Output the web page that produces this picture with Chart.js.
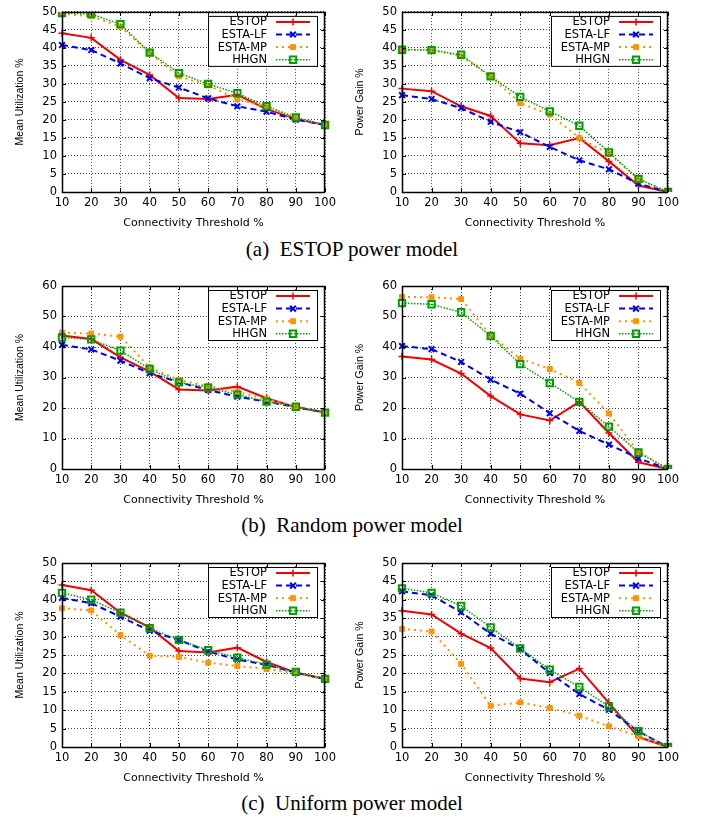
<!DOCTYPE html>
<html>
<head>
<meta charset="utf-8">
<script src="https://cdn.jsdelivr.net/npm/chart.js@4.4.1/dist/chart.umd.min.js"></script>
<style>
  body { margin: 0; background: #fff; }
  #page { position: relative; width: 704px; height: 818px; overflow: hidden; }
  .pane { position: absolute; }
  .cap { position: absolute; left: 0; width: 704px; text-align: center; font-family: "Liberation Serif", "Times New Roman", serif; font-size: 21px; line-height: 24px; color: #000; white-space: pre; }
</style>
</head>
<body>
<div id="page">
  <div class="pane" style="left:0;top:0;width:340px;height:230px"><canvas id="aU"></canvas></div>
  <div class="pane" style="left:340px;top:0;width:364px;height:230px"><canvas id="aG"></canvas></div>
  <div class="cap" style="top:237px">(a)  ESTOP power model</div>
  <div class="pane" style="left:0;top:270px;width:340px;height:237px"><canvas id="bU"></canvas></div>
  <div class="pane" style="left:340px;top:270px;width:364px;height:237px"><canvas id="bG"></canvas></div>
  <div class="cap" style="top:513px">(b)  Random power model</div>
  <div class="pane" style="left:0;top:548px;width:340px;height:237px"><canvas id="cU"></canvas></div>
  <div class="pane" style="left:340px;top:548px;width:364px;height:237px"><canvas id="cG"></canvas></div>
  <div class="cap" style="top:791px">(c)  Uniform power model</div>
</div>
<script>
// connectivity thresholds (x axis)
const thresholds = ['10', '20', '30', '40', '50', '60', '70', '80', '90', '100'];
const algos = ['ESTOP', 'ESTA-LF', 'ESTA-MP', 'HHGN'];

// (a) ESTOP power model
const aUtilEstop = [44.1, 42.8, 36.7, 32.5, 26.1, 25.8, 27.0, 23.0, 20.3, 18.6];
const aUtilLf    = [40.8, 39.4, 35.7, 31.6, 29.0, 26.0, 23.8, 22.3, 20.1, 18.6];
const aUtilMp    = [49.5, 48.8, 45.9, 38.5, 32.1, 29.6, 25.8, 23.6, 20.5, 18.6];
const aUtilHhgn  = [49.7, 49.4, 46.6, 38.7, 33.0, 30.0, 27.4, 23.8, 20.7, 18.6];
const aGainEstop = [28.7, 28.0, 23.8, 21.1, 13.5, 13.0, 15.0, 8.5, 1.8, 0];
const aGainLf    = [26.9, 25.8, 23.3, 19.5, 16.6, 12.5, 8.8, 6.3, 2.3, 0];
const aGainMp    = [39.5, 39.4, 37.7, 32.0, 24.7, 21.5, 15.0, 10.6, 3.6, 0];
const aGainHhgn  = [39.5, 39.4, 38.1, 32.1, 26.4, 22.4, 18.4, 11.0, 3.6, 0];

// (b) Random power model
const bUtilEstop = [43.8, 42.6, 36.6, 31.9, 26.1, 25.7, 27.0, 23.2, 20.3, 18.5];
const bUtilLf    = [40.7, 39.2, 35.5, 31.4, 28.5, 25.9, 23.7, 22.1, 20.3, 18.5];
const bUtilMp    = [44.7, 44.4, 43.4, 33.3, 29.2, 27.2, 25.3, 22.9, 20.5, 18.5];
const bUtilHhgn  = [43.1, 42.5, 38.8, 32.8, 28.4, 26.7, 24.4, 22.1, 20.4, 18.5];
const bGainEstop = [36.9, 35.9, 31.3, 23.9, 17.9, 15.9, 22.0, 11.8, 2.2, 0];
const bGainLf    = [40.3, 39.3, 35.1, 29.3, 24.7, 18.3, 12.5, 8.0, 3.5, 0];
const bGainMp    = [56.4, 56.3, 55.7, 43.8, 36.1, 32.8, 28.2, 18.2, 5.6, 0];
const bGainHhgn  = [54.4, 54.0, 51.4, 43.6, 34.4, 28.2, 22.0, 13.9, 5.4, 0];

// (c) Uniform power model
const cUtilEstop = [44.0, 42.6, 36.5, 32.5, 26.1, 25.7, 27.0, 23.1, 20.2, 18.5];
const cUtilLf    = [40.5, 39.1, 35.4, 31.6, 29.1, 25.9, 23.8, 22.3, 20.2, 18.5];
const cUtilMp    = [37.7, 37.1, 30.4, 24.8, 24.5, 22.9, 22.0, 21.2, 20.0, 18.5];
const cUtilHhgn  = [41.9, 40.0, 36.5, 32.3, 29.1, 26.3, 24.3, 22.4, 20.4, 18.5];
const cGainEstop = [37.0, 36.0, 30.8, 26.9, 18.6, 17.6, 21.3, 12.0, 2.7, 0];
const cGainLf    = [42.3, 41.2, 36.6, 30.8, 26.6, 20.1, 14.4, 10.1, 4.2, 0];
const cGainMp    = [32.1, 31.4, 22.6, 11.2, 12.1, 10.6, 8.5, 5.6, 2.9, 0];
const cGainHhgn  = [43.1, 41.9, 38.3, 32.5, 26.8, 21.0, 16.3, 11.0, 4.3, 0];

const styles = [
  { color: '#f00000', dash: [], width: 2, point: 'cross', radius: 3.5, pw: 1.5, fill: '#f00000' },
  { color: '#0000f0', dash: [6, 4], width: 2, point: 'crossRot', radius: 4, pw: 2, fill: '#0000f0' },
  { color: '#ff9400', dash: [2, 4], width: 2, point: 'rect', radius: 3.5, pw: 1, fill: '#ff9400' },
  { color: '#00a000', dash: [1.5, 1.5], width: 1.5, point: 'rect', radius: 4.5, pw: 2, fill: 'rgba(0,0,0,0)' }
];

const FONT = 'DejaVu Sans';

// frame, inner tick marks and a gnuplot style legend inside the plot
const framePlugin = {
  id: 'frame',
  afterDatasetsDraw(chart) {
    const { ctx, chartArea: a } = chart;
    const xs = chart.scales.x, ys = chart.scales.y;
    ctx.save();
    ctx.strokeStyle = '#000';
    ctx.lineWidth = 1;
    ctx.beginPath();
    xs.ticks.forEach((t, i) => {
      const px = Math.round(xs.getPixelForTick(i)) + 0.5;
      ctx.moveTo(px, a.bottom); ctx.lineTo(px, a.bottom - 4);
      ctx.moveTo(px, a.top); ctx.lineTo(px, a.top + 4);
    });
    ys.ticks.forEach((t, i) => {
      const py = Math.round(ys.getPixelForTick(i)) + 0.5;
      ctx.moveTo(a.left, py); ctx.lineTo(a.left + 4, py);
      ctx.moveTo(a.right, py); ctx.lineTo(a.right - 4, py);
    });
    ctx.stroke();
    ctx.lineWidth = 1.5;
    ctx.strokeRect(a.left + 0.5, a.top + 0.5, a.right - a.left - 1, a.bottom - a.top);
    // legend
    const bx = a.right - 117, by = a.top + 4, bw = 109, bh = 50;
    ctx.fillStyle = '#fff';
    ctx.fillRect(bx, by, bw, bh);
    ctx.lineWidth = 1;
    ctx.strokeRect(bx + 0.5, by + 0.5, bw, bh);
    ctx.font = '11.5px "' + FONT + '"';
    ctx.textAlign = 'right';
    ctx.textBaseline = 'middle';
    chart.data.datasets.forEach((ds, i) => {
      const st = styles[i];
      const y = by + 6 + i * 12.6;
      ctx.fillStyle = '#000';
      ctx.fillText(ds.label, a.right - 58, y + 0.5);
      ctx.save();
      ctx.strokeStyle = st.color;
      ctx.lineWidth = st.width;
      ctx.setLineDash(st.dash);
      ctx.beginPath();
      ctx.moveTo(a.right - 49, y);
      ctx.lineTo(a.right - 15, y);
      ctx.stroke();
      ctx.setLineDash([]);
      ctx.fillStyle = st.fill;
      ctx.strokeStyle = st.color;
      ctx.lineWidth = st.pw;
      Chart.helpers.drawPoint(ctx, { pointStyle: st.point, radius: st.radius, rotation: 0, borderWidth: st.pw }, a.right - 32, y);
      ctx.restore();
    });
    ctx.restore();
  }
};

function makeChart(id, series, yTitle, yMax, yStep, box) {
  const datasets = series.map((vals, i) => {
    const st = styles[i];
    return {
      label: algos[i],
      data: vals,
      borderColor: st.color,
      backgroundColor: st.color,
      borderWidth: st.width,
      borderDash: st.dash,
      tension: 0,
      pointStyle: st.point,
      pointRadius: st.radius,
      pointBorderWidth: st.pw,
      pointBorderColor: st.color,
      pointBackgroundColor: st.fill,
      order: 4 - i
    };
  });
  new Chart(document.getElementById(id), {
    type: 'line',
    data: { labels: thresholds, datasets: datasets },
    options: {
      responsive: true,
      maintainAspectRatio: false,
      animation: false,
      layout: { padding: { top: box.top, right: box.right, left: 14, bottom: 0 } },
      plugins: { legend: { display: false }, tooltip: { enabled: false } },
      scales: {
        x: {
          offset: false,
          grid: { color: '#444', lineWidth: 1, drawTicks: false },
          border: { display: false, dash: [1, 2] },
          ticks: { color: '#000', font: { family: FONT, size: 11.5 }, padding: 4, maxRotation: 0, autoSkip: false },
          title: { display: true, text: 'Connectivity Threshold %', color: '#000', font: { family: FONT, size: 11 }, padding: { top: 1, bottom: 0 } },
          afterFit(s) { s.height = box.xh; }
        },
        y: {
          min: 0, max: yMax,
          grid: { color: '#444', lineWidth: 1, drawTicks: false },
          border: { display: false, dash: [1, 2] },
          ticks: { stepSize: yStep, color: '#000', font: { family: FONT, size: 11.5 }, padding: 5 },
          title: { display: true, text: yTitle, color: '#000', font: { family: 'Liberation Sans', size: 10.5 }, padding: { top: 0, bottom: 2 } },
          afterFit(s) { s.width = box.yw; }
        }
      }
    },
    plugins: [framePlugin]
  });
}

const leftBox  = (top, right) => ({ top: top, right: right, yw: 48, xh: 38 });
const rightBox = (top) => ({ top: top, right: 36, yw: 48, xh: 38 });

makeChart('aU', [aUtilEstop, aUtilLf, aUtilMp, aUtilHhgn], 'Mean Utilization %', 50, 5, leftBox(8, 12));
makeChart('aG', [aGainEstop, aGainLf, aGainMp, aGainHhgn], 'Power Gain %', 50, 5, rightBox(8));
makeChart('bU', [bUtilEstop, bUtilLf, bUtilMp, bUtilHhgn], 'Mean Utilization %', 60, 10, leftBox(16, 12));
makeChart('bG', [bGainEstop, bGainLf, bGainMp, bGainHhgn], 'Power Gain %', 60, 10, rightBox(16));
makeChart('cU', [cUtilEstop, cUtilLf, cUtilMp, cUtilHhgn], 'Mean Utilization %', 50, 5, leftBox(15, 11));
makeChart('cG', [cGainEstop, cGainLf, cGainMp, cGainHhgn], 'Power Gain %', 50, 5, rightBox(15));
</script>
</body>
</html>
